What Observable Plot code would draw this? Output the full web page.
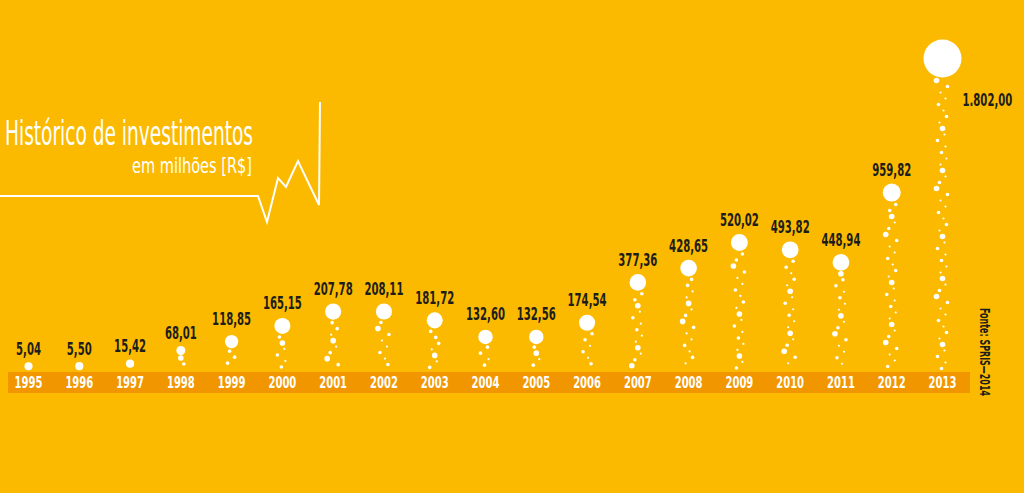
<!DOCTYPE html>
<html><head><meta charset="utf-8">
<script src="https://cdn.jsdelivr.net/npm/d3@7"></script>
<script src="https://cdn.jsdelivr.net/npm/@observablehq/plot@0.6"></script>
<style>
html,body{margin:0;padding:0;background:#FBBA00;width:1024px;height:493px;overflow:hidden}
#wrap{position:relative;width:1024px;height:493px}
#deco,#chart{position:absolute;left:0;top:0}
text{font-stretch:condensed}
</style></head><body>
<div id="wrap"><svg id="deco" width="1024" height="493"></svg><div id="chart"></div></div>
<script>
const years = [1995,1996,1997,1998,1999,2000,2001,2002,2003,2004,2005,2006,2007,2008,2009,2010,2011,2012,2013];
const values = [5.04,5.50,15.42,68.01,118.85,165.15,207.78,208.11,181.72,132.60,132.56,174.54,377.36,428.65,520.02,493.82,448.94,959.82,1802.00];
const labels = ["5,04","5,50","15,42","68,01","118,85","165,15","207,78","208,11","181,72","132,60","132,56","174,54","377,36","428,65","520,02","493,82","448,94","959,82","1.802,00"];
const titleText = "Histórico de investimentos";
const subtitleText = "em milhões [R$]";
const sourceText = "Fonte: SPRIS\u20142014";

const FONT = "'Liberation Sans Narrow','DejaVu Sans Condensed','Roboto Condensed',sans-serif";
const BG = "#FBBA00", BAND = "#F29600", DARK = "#1d1d1b";

const data = years.map((year, i) => ({year, value: values[i], label: labels[i]}));

const yOpts = {type: "linear", domain: [0, 68, 119, 208, 377, 520, 960, 1802], range: [367, 350, 341, 311, 282, 242, 192, 58]};
const rOpts = {type: "linear", domain: [0, 70, 150, 960, 1802], range: [4, 4.5, 8, 9, 19]};
const xOpts = {type: "linear", domain: [1995, 2013], range: [28, 942]};
const yS = Plot.scale({y: yOpts});
const rS = Plot.scale({r: rOpts});
const xS = Plot.scale({x: xOpts});

// decorative bubble trail beneath each bubble, laid out from each value
const dxPattern = [-6, 5, -2, 3, -4, 1, 4, -3, 0, 2, -5, 3, -1, 4, -2, 0, 3, -3];
const sPattern  = [2, 1, 0, 0, 1, 0, 1, 0, 2, 0, 1, 0, 1, 0, 0, 2, 0, 1];
const trail = [];
const unit = (xS.apply(2013) - xS.apply(1995)) / 18;
data.forEach((d, i) => {
  const top = yS.apply(d.value) + rS.apply(d.value) + 3;
  let k = 0;
  for (let py = top; py <= 368; py += 6, k++) {
    const j = (k + i * 5) % dxPattern.length;
    trail.push({x: d.year + dxPattern[j] / unit, value: yS.invert(py), s: k < 2 ? Math.max(sPattern[j], 1) : sPattern[j]});
  }
});

const textStyle = {fontFamily: FONT, fontWeight: "bold"};

const chart = Plot.plot({
  width: 1024, height: 493, margin: 0,
  style: {background: "transparent", overflow: "visible"},
  x: {...xOpts, axis: null},
  y: {...yOpts, axis: null},
  r: {...rOpts},
  marks: [
    ...[1.1, 1.8, 2.8].map((rr, s) => Plot.dot(trail.filter(t => t.s === s), {x: "x", y: "value", r: rr, fill: "white", stroke: null})),
    Plot.dot(data, {x: "year", y: "value", r: "value", fill: "white", stroke: null}),
    Plot.text(data.filter(d => d.value < 100), {x: "year", y: "value", text: "label", dy: -17, fontSize: 17, fill: DARK, ...textStyle, className: "val"}),
    Plot.text(data.filter(d => d.value >= 100 && d.value < 1000), {x: "year", y: "value", text: "label", dy: -22, fontSize: 17, fill: DARK, ...textStyle, className: "val"}),
    Plot.text(data.filter(d => d.value >= 1000), {x: "year", y: "value", text: "label", dx: 20, dy: 42, textAnchor: "start", fontSize: 17, fill: DARK, ...textStyle, className: "val"}),
    Plot.text(years, {x: d => d, y: () => 0, text: d => String(d), dy: 16, fontSize: 15, fill: "white", ...textStyle, className: "yr"})
  ]
});
document.getElementById("chart").appendChild(chart);
// condense the chart's texts horizontally (no condensed font installed)
const condense = (sel, f) => d3.select(chart).selectAll(sel).each(function() {
  const w = this.getComputedTextLength();
  this.setAttribute("textLength", (w * f).toFixed(1));
  this.setAttribute("lengthAdjust", "spacingAndGlyphs");
});
condense(".val text", 0.66);
condense(".yr text", 0.74);

// decoration: band, title, zigzag line, source
const deco = d3.select("#deco");
deco.append("rect").attr("x", 8).attr("y", 372).attr("width", 962).attr("height", 21).attr("fill", BAND);
deco.append("polyline")
  .attr("points", "0,196 258,196 267,222 278,178 286,187 298,161 319,205 320,102")
  .attr("fill", "none").attr("stroke", "white").attr("stroke-width", 2).attr("stroke-linejoin", "miter");
deco.append("text").text(titleText).attr("x", 5).attr("y", 145)
  .attr("font-family", FONT).attr("font-size", 34).attr("fill", "white")
  .attr("textLength", 248).attr("lengthAdjust", "spacingAndGlyphs");
deco.append("text").text(subtitleText).attr("x", 132).attr("y", 173)
  .attr("font-family", FONT).attr("font-size", 21).attr("fill", "white")
  .attr("textLength", 120).attr("lengthAdjust", "spacingAndGlyphs");
deco.append("text").text(sourceText).attr("transform", "translate(980,308) rotate(90)")
  .attr("font-family", FONT).attr("font-weight", "bold").attr("font-size", 14).attr("fill", DARK)
  .attr("textLength", 88).attr("lengthAdjust", "spacingAndGlyphs");
</script>
</body></html>
